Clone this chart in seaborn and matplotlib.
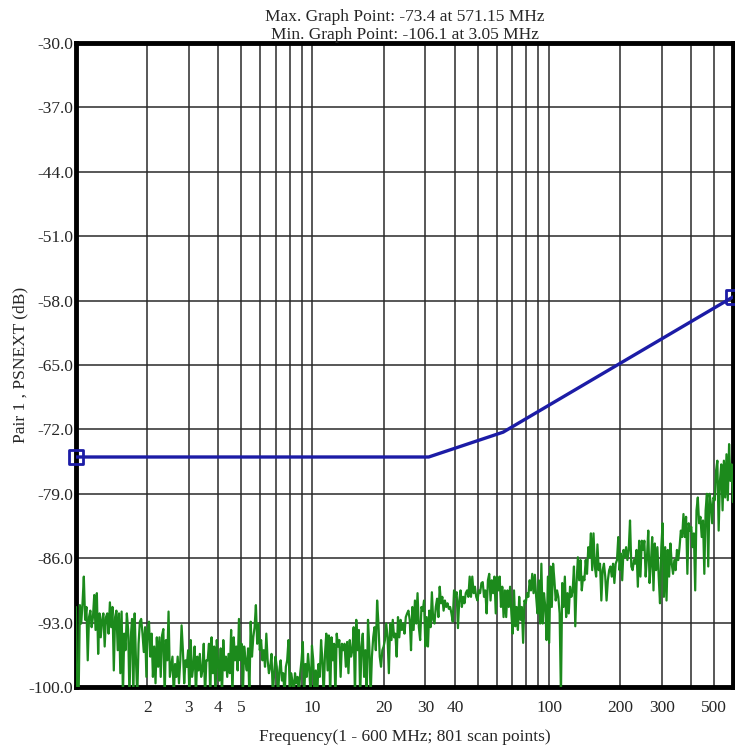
import numpy as np
import pandas as pd
import matplotlib
matplotlib.use("Agg")
import matplotlib.pyplot as plt
import seaborn as sns

# ---------------- data ----------------
title_lines = ["Max. Graph Point: -73.4 at 571.15 MHz",
               "Min. Graph Point: -106.1 at 3.05 MHz"]
x_label = "Frequency(1 - 600 MHz; 801 scan points)"
y_label = "Pair 1 , PSNEXT (dB)"

y_ticks = [-30.0, -37.0, -44.0, -51.0, -58.0, -65.0, -72.0, -79.0, -86.0, -93.0, -100.0]
x_grid = [2, 3, 4, 5, 6, 7, 8, 9, 10, 20, 30, 40, 50, 60, 70, 80, 90,
          100, 200, 300, 400, 500]
x_labelled = [2, 3, 4, 5, 10, 20, 30, 40, 100, 200, 300, 500]

# limit line (MHz, dB)
limit_freq = [1.0, 31.0, 64.0, 600.0]
limit_db = [-75.0, -75.0, -72.3, -57.6]

seg1 = [-91.3, -101, -101, -91.1, -93.1, -90.9, -88.0, -92.7, -91.3, -97.1, -92.4, -91.7, -93.5, -92.4,
        -90.0, -93.8, -89.8, -96.4, -92.0, -94.6, -92.7, -92.0, -95.6, -92.4, -92.0, -94.2, -90.8, -93.5,
        -91.3, -98.2, -92.4, -91.7, -96.0, -92.0, -98.5, -91.8, -101, -94.2, -96.0, -92.0, -93.8, -101,
        -94.6, -92.6, -101, -92.0, -97.1, -101, -95.3, -92.9, -92.6, -94.2, -96.2, -93.5, -98.9, -93.8,
        -92.9, -96.7, -94.2, -98.9, -95.6, -99.6, -94.6, -97.8, -94.6, -98.9, -94.4, -93.7, -101, -94.9,
        -97.1, -91.8, -98.9, -97.8, -96.7, -101, -97.5, -98.9, -96.7, -99.6, -97.1, -93.3, -96.0, -99.6,
        -97.1, -97.8, -96.0, -101, -94.9, -98.9, -97.8, -95.6, -101, -96.7, -98.2, -96.4, -98.9, -98.2,
        -95.3, -101, -97.1]
seg2 = [-97.1, -95.3, -101, -94.6, -98.5, -95.6, -101, -94.9, -97.5, -99.3, -95.8, -101, -94.9, -98.2,
        -96.7, -98.9, -96.4, -98.5, -93.8, -101, -94.6, -97.1, -95.6, -98.2, -92.6, -97.1, -95.3, -101,
        -95.6, -97.1, -98.2, -95.8, -101, -92.9, -96.7, -94.6, -93.5, -91.1, -95.3, -93.1, -96.0, -94.9,
        -97.1, -96.0, -97.8, -94.2, -97.1, -98.5, -97.8, -96.4, -101, -98.5, -96.7, -97.8, -101, -98.2,
        -97.1, -99.3, -98.5, -101, -97.8, -97.1, -94.9, -101, -98.5, -99.3, -101, -98.5, -99.6, -98.9,
        -101, -98.5, -97.1, -95.1, -101, -97.5, -98.9, -96.4, -98.2, -101, -95.5, -97.1, -101, -98.2,
        -101, -97.5, -98.9, -94.9, -97.1, -101, -96.4, -94.2, -98.2, -94.4, -101, -94.6, -97.1, -95.3,
        -101, -94.2, -95.6]
seg3 = [-94.9, -98.9, -95.3, -96.0, -95.3, -97.8, -95.1, -98.5, -94.9, -96.7, -96.0, -93.5, -101, -92.7,
        -96.0, -93.8, -101, -95.6, -94.2, -98.9, -96.0, -101, -92.7, -95.6, -101, -96.7, -94.6, -93.5,
        -96.0, -90.6, -93.1, -96.7, -97.8, -96.0, -95.6, -94.9, -93.1, -94.6, -98.5, -93.1, -94.9, -92.7,
        -94.6, -94.2, -96.7, -92.4, -94.6, -92.7, -93.8, -93.1, -94.2, -92.4, -92.0, -91.7, -92.7, -96.0,
        -91.3, -93.8, -90.6, -93.1, -89.8, -93.5, -94.9, -91.3, -91.7, -90.6, -95.6, -92.4, -95.6, -91.7,
        -93.5, -89.7, -92.7, -93.1, -91.3, -90.4, -92.4, -89.1, -90.9, -90.2, -91.7, -90.6, -91.3, -90.9,
        -91.5, -91.3, -92.0, -92.9, -89.5, -90.2, -89.7, -93.6, -90.6, -89.5, -91.3, -90.2, -90.9, -89.8,
        -89.5, -90.2, -88.0]
seg4 = [-90.2, -88.0, -89.8, -89.1, -90.2, -90.6, -89.5, -89.8, -88.7, -88.6, -90.2, -89.5, -92.0, -88.4,
        -87.7, -90.6, -88.4, -89.8, -88.0, -92.0, -88.0, -89.5, -88.0, -91.3, -89.1, -92.4, -89.5, -92.4,
        -89.5, -91.3, -89.1, -92.0, -94.2, -89.5, -93.4, -91.3, -93.8, -90.2, -92.7, -91.3, -95.2, -90.6,
        -90.9, -89.8, -90.2, -88.4, -89.5, -87.7, -89.8, -87.8, -90.2, -92.0, -88.4, -93.1, -86.6, -93.1,
        -89.8, -91.3, -94.9, -88.0, -95.2, -86.9, -91.3, -86.6, -88.4, -90.6, -89.5, -90.2, -92.0, -101,
        -88.7, -91.3, -88.0, -92.4, -89.8, -92.0, -89.1, -90.2, -89.5, -86.9, -93.4, -88.7, -85.9, -88.4,
        -86.2, -89.5, -88.0, -88.4, -86.2, -87.7, -84.8, -85.9, -83.3, -87.3, -83.3, -86.9, -88.0, -84.5,
        -87.3, -86.6, -90.6]
seg5 = [-87.3, -86.6, -88.0, -90.6, -88.4, -87.3, -86.9, -88.0, -86.6, -88.7, -86.6, -86.2, -83.7, -87.3,
        -85.5, -88.4, -85.1, -85.9, -84.8, -86.2, -85.1, -81.9, -86.9, -87.3, -86.2, -86.6, -85.1, -89.1,
        -84.1, -88.0, -84.1, -85.1, -84.1, -88.0, -85.9, -83.0, -88.7, -86.6, -83.7, -89.5, -84.4, -87.3,
        -84.8, -88.0, -90.9, -84.8, -82.2, -90.2, -84.8, -90.6, -85.1, -88.0, -84.4, -86.6, -87.7, -86.2,
        -87.3, -85.1, -86.2, -84.8, -83.0, -83.7, -81.2, -83.7, -81.5, -87.7, -82.2, -83.0, -82.6, -84.8,
        -83.3, -89.5, -80.8, -79.4, -82.2, -81.5, -83.7, -81.9, -87.7, -80.8, -79.0, -86.9, -79.0, -80.1,
        -82.2, -79.4, -79.7, -76.5, -75.4, -83.0, -77.6, -75.8, -80.8, -75.4, -79.4, -74.7, -79.7, -73.6,
        -77.6, -75.8, -79.9]
psnext_db = seg1 + seg2 + seg3 + seg4 + seg5
scan_freq = np.geomspace(1.0, 600.0, len(psnext_db))  # scan points, evenly spaced on the log axis

# ---------------- style ----------------
sns.set_style("white")
plt.rcParams["font.family"] = ["Liberation Serif", "DejaVu Serif"]
fs = 12.5
plt.rcParams["font.size"] = fs

blue = "#1c1ca6"
green = "#1c8a1c"

fig = plt.figure(figsize=(7.35, 7.52), dpi=100)
ax = fig.add_axes([76 / 735, 1 - 687 / 752, (733 - 76) / 735, (687 - 43) / 752])

meas = pd.DataFrame({"freq": scan_freq, "db": psnext_db})
lim = pd.DataFrame({"freq": limit_freq, "db": limit_db})

sns.lineplot(data=meas, x="freq", y="db", ax=ax, color=green, linewidth=1.6,
             estimator=None, sort=False, zorder=3)
sns.lineplot(data=lim, x="freq", y="db", ax=ax, color=blue, linewidth=2.4,
             estimator=None, sort=False, zorder=4)
ends = lim.iloc[[0, -1]]
sns.scatterplot(data=ends, x="freq", y="db", ax=ax, marker="s", s=110,
                facecolors="none", edgecolor=blue, linewidth=2, zorder=5, clip_on=False)

ax.set_xscale("log")
ax.set_xlim(1, 600)
ax.set_ylim(-100, -30)

ax.set_yticks(y_ticks)
ax.set_yticklabels([f"{v:.1f}" for v in y_ticks])
ax.set_xticks(x_grid)
ax.set_xticklabels([str(v) if v in x_labelled else "" for v in x_grid])
ax.xaxis.set_minor_locator(matplotlib.ticker.NullLocator())
ax.tick_params(axis="both", length=0, labelsize=fs)
ax.tick_params(axis="y", pad=2)
ax.tick_params(axis="x", pad=9)

ax.grid(True, which="major", axis="both", color="#2a2a2a", linewidth=1.1)
ax.set_axisbelow(True)

for s in ax.spines.values():
    s.set_visible(True)
    s.set_color("black")
    s.set_linewidth(3.5)

ax.set_xlabel(x_label, fontsize=fs, labelpad=10)
ax.set_ylabel(y_label, fontsize=fs)
ax.yaxis.set_label_coords(-(76 - 28) / 657, 0.5)
ax.set_title("\n".join(title_lines), fontsize=fs, pad=3, linespacing=1.15)

fig.savefig("out.png", dpi=100)
